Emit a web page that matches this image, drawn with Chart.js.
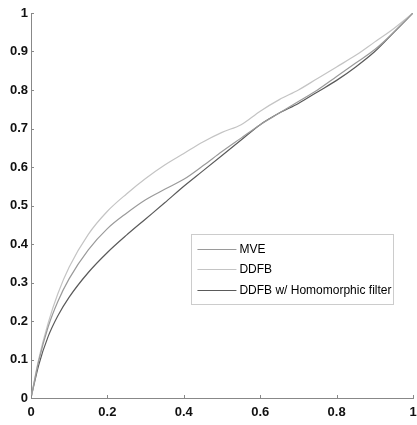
<!DOCTYPE html>
<html>
<head>
<meta charset="utf-8">
<script src="https://cdn.jsdelivr.net/npm/chart.js@4"></script>
<style>
  html, body { margin: 0; padding: 0; background: #fff; }
  #wrap { width: 417px; height: 425px; position: relative; }
</style>
</head>
<body>
<div id="wrap"><canvas id="c" width="417" height="425"></canvas></div>
<script>
// Sample positions along the horizontal axis
const xs = [0, 0.02, 0.045, 0.07, 0.1, 0.15, 0.2, 0.25, 0.3, 0.35, 0.4, 0.45, 0.5, 0.55, 0.6, 0.65, 0.7, 0.75, 0.8, 0.85, 0.9, 0.95, 1];

// Curves
const mveY  = [0, 0.095, 0.185, 0.25, 0.31, 0.385, 0.44, 0.48, 0.515, 0.542, 0.568, 0.603, 0.64, 0.675, 0.71, 0.74, 0.77, 0.80, 0.835, 0.87, 0.905, 0.95, 1];
const ddfbY = [0, 0.10, 0.195, 0.27, 0.34, 0.425, 0.485, 0.53, 0.57, 0.605, 0.635, 0.665, 0.69, 0.71, 0.745, 0.775, 0.80, 0.83, 0.86, 0.89, 0.925, 0.96, 1];
const homoY = [0, 0.085, 0.16, 0.213, 0.262, 0.326, 0.378, 0.423, 0.465, 0.507, 0.55, 0.59, 0.63, 0.67, 0.71, 0.74, 0.765, 0.795, 0.825, 0.86, 0.90, 0.95, 1];

const seriesNames = ['MVE', 'DDFB', 'DDFB w/ Homomorphic filter'];
const seriesColors = ['#9a9a9a', '#c4c4c4', '#5a5a5a'];

const xTicks = [0, 0.2, 0.4, 0.6, 0.8, 1];
const yTicks = [0, 0.1, 0.2, 0.3, 0.4, 0.5, 0.6, 0.7, 0.8, 0.9, 1];

const pts = ys => xs.map((x, i) => ({ x: x, y: ys[i] }));

// Small inward tick marks on both axes
const innerTicks = {
  id: 'innerTicks',
  afterDraw(chart) {
    const ctx = chart.ctx;
    const xS = chart.scales.x, yS = chart.scales.y;
    ctx.save();
    ctx.strokeStyle = '#888';
    ctx.lineWidth = 1;
    xTicks.forEach(v => {
      const px = Math.round(xS.getPixelForValue(v)) + 0.5;
      ctx.beginPath(); ctx.moveTo(px, yS.bottom); ctx.lineTo(px, yS.bottom - 3); ctx.stroke();
    });
    yTicks.forEach(v => {
      const py = Math.round(yS.getPixelForValue(v)) + 0.5;
      ctx.beginPath(); ctx.moveTo(xS.left, py); ctx.lineTo(xS.left + 3, py); ctx.stroke();
    });
    ctx.restore();
  }
};

// Boxed legend inside the plot area
const boxLegend = {
  id: 'boxLegend',
  afterDraw(chart) {
    const ctx = chart.ctx;
    const xS = chart.scales.x, yS = chart.scales.y;
    const left = xS.getPixelForValue(0.42), right = xS.getPixelForValue(0.95);
    const top = yS.getPixelForValue(0.425), bottom = yS.getPixelForValue(0.243);
    ctx.save();
    ctx.fillStyle = '#fff';
    ctx.fillRect(left, top, right - left, bottom - top);
    ctx.strokeStyle = '#999';
    ctx.setLineDash([1, 1]);
    ctx.lineWidth = 1;
    ctx.strokeRect(Math.round(left) + 0.5, Math.round(top) + 0.5, Math.round(right - left), Math.round(bottom - top));
    ctx.setLineDash([]);
    ctx.font = '12px "Liberation Sans", Arial, sans-serif';
    ctx.textBaseline = 'middle';
    const step = (bottom - top) / 3.4;
    chart.data.datasets.forEach((ds, i) => {
      const cy = Math.round(top + step * (0.7 + i)) + 0.5;
      ctx.strokeStyle = ds.borderColor;
      ctx.lineWidth = 1;
      ctx.beginPath(); ctx.moveTo(left + 6, cy); ctx.lineTo(left + 45, cy); ctx.stroke();
      ctx.fillStyle = '#000';
      ctx.fillText(ds.label, left + 48, cy);
    });
    ctx.restore();
  }
};

new Chart(document.getElementById('c'), {
  type: 'scatter',
  data: {
    datasets: [mveY, ddfbY, homoY].map((ys, i) => ({
      label: seriesNames[i],
      data: pts(ys),
      showLine: true,
      borderColor: seriesColors[i],
      borderWidth: 1.2,
      pointRadius: 0,
      cubicInterpolationMode: 'monotone',
      fill: false
    }))
  },
  options: {
    responsive: false,
    animation: false,
    layout: { padding: { left: 0, right: 4, top: 13, bottom: 0 } },
    plugins: { legend: { display: false }, tooltip: { enabled: false } },
    scales: {
      x: {
        type: 'linear', min: 0, max: 1,
        afterBuildTicks: s => { s.ticks = xTicks.map(v => ({ value: v })); },
        afterFit: s => { s.height = 27; s.paddingLeft = 0; s.paddingRight = 0; },
        grid: { display: true, drawOnChartArea: false, drawTicks: false },
        border: { display: true, color: '#888', dash: [1, 1] },
        ticks: {
          padding: 7, color: '#111',
          font: { family: '"Liberation Sans", Arial, sans-serif', size: 13, weight: 'bold' },
          callback: v => String(v), maxRotation: 0
        }
      },
      y: {
        type: 'linear', min: 0, max: 1,
        afterBuildTicks: s => { s.ticks = yTicks.map(v => ({ value: v })); },
        afterFit: s => { s.width = 31; s.paddingTop = 0; s.paddingBottom = 0; },
        grid: { display: true, drawOnChartArea: false, drawTicks: false },
        border: { display: true, color: '#888', dash: [1, 1] },
        ticks: {
          padding: 3, color: '#111',
          font: { family: '"Liberation Sans", Arial, sans-serif', size: 13, weight: 'bold' },
          callback: v => String(v)
        }
      }
    }
  },
  plugins: [innerTicks, boxLegend]
});
</script>
</body>
</html>
